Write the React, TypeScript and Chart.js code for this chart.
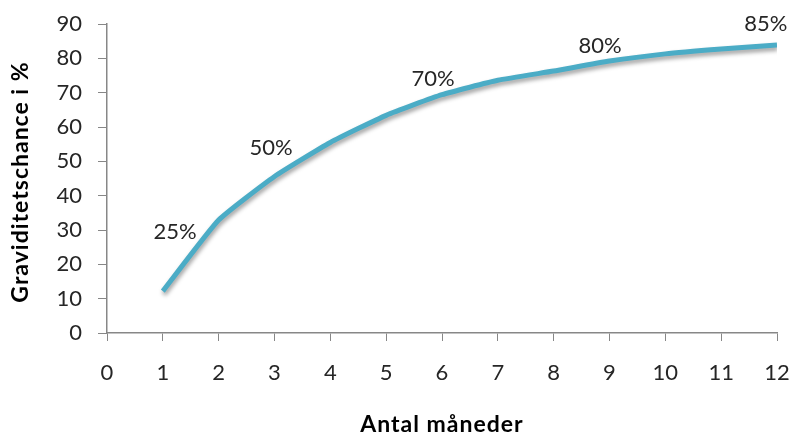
import React, { useEffect, useRef } from "react";
import { Chart, registerables } from "chart.js";

Chart.register(...registerables);

// Pregnancy chance (%) by number of months trying
const months = [1, 2, 3, 4, 5, 6, 7, 8, 9, 10, 11, 12];
const chance = [12.2, 32.9, 45.6, 55.5, 63.4, 69.4, 73.6, 76.3, 79.2, 81.3, 82.7, 83.9];

// Annotation texts placed in data coordinates (month, percent)
const noteTexts = ["25%", "50%", "70%", "80%", "85%"];
const noteMonths = [1.22, 2.94, 5.84, 8.83, 11.8];
const noteValues = [29.4, 53.9, 74.0, 83.6, 90.0];

const xTitle = "Antal måneder";
const yTitle = "Graviditetschance i %";

const FONT = "Lato, 'Open Sans', sans-serif";
const LINE_COLOR = "#4BACC6";
const AXIS_COLOR = "#878787";
const TEXT_COLOR = "#262626";

const lineShadow = {
  id: "lineShadow",
  beforeDatasetDraw(chart: any) {
    const ctx = chart.ctx;
    ctx.save();
    ctx.shadowColor = "rgba(0,0,0,0.38)";
    ctx.shadowBlur = 4;
    ctx.shadowOffsetX = 1;
    ctx.shadowOffsetY = 3;
  },
  afterDatasetDraw(chart: any) {
    chart.ctx.restore();
  },
};

const notesAndTitles = {
  id: "notesAndTitles",
  afterDraw(chart: any) {
    const ctx = chart.ctx;
    const xs = chart.scales.x;
    const ys = chart.scales.y;
    const area = chart.chartArea;
    ctx.save();
    ctx.fillStyle = TEXT_COLOR;
    ctx.textAlign = "center";
    ctx.textBaseline = "middle";
    ctx.font = `22px ${FONT}`;
    noteTexts.forEach((t, i) => {
      ctx.fillText(t, xs.getPixelForValue(noteMonths[i]), ys.getPixelForValue(noteValues[i]));
    });
    ctx.fillStyle = "#000";
    ctx.font = `bold 23px ${FONT}`;
    (ctx as any).letterSpacing = "1px";
    ctx.fillText(xTitle, (area.left + area.right) / 2, 425);
    ctx.translate(21, 182);
    ctx.rotate(-Math.PI / 2);
    ctx.fillText(yTitle, 0, 0);
    ctx.restore();
  },
};

export default function App() {
  const ref = useRef<HTMLCanvasElement | null>(null);

  useEffect(() => {
    if (!ref.current) return;
    const chart = new Chart(ref.current, {
      type: "line",
      data: {
        datasets: [
          {
            data: months.map((m, i) => ({ x: m, y: chance[i] })),
            borderColor: LINE_COLOR,
            borderWidth: 5,
            pointRadius: 0,
            tension: 0.15,
            fill: false,
          },
        ],
      },
      options: {
        animation: false,
        responsive: false,
        events: [],
        layout: { padding: { top: 24, right: 16, left: 0, bottom: 0 } },
        plugins: { legend: { display: false }, tooltip: { enabled: false } },
        scales: {
          x: {
            type: "linear",
            min: 0,
            max: 12,
            afterFit(s: any) {
              s.height = 103;
              s.paddingLeft = 0;
              s.paddingRight = 0;
            },
            ticks: {
              stepSize: 1,
              color: TEXT_COLOR,
              font: { family: FONT, size: 22 },
              padding: 19,
              maxRotation: 0,
            },
            grid: {
              drawOnChartArea: false,
              drawTicks: true,
              tickLength: 8,
              color: AXIS_COLOR,
            },
            border: { display: true, color: AXIS_COLOR, width: 1.5 },
          },
          y: {
            min: 0,
            max: 90,
            afterFit(s: any) {
              s.width = 107;
              s.paddingTop = 0;
              s.paddingBottom = 0;
            },
            ticks: {
              stepSize: 10,
              color: TEXT_COLOR,
              font: { family: FONT, size: 22 },
              padding: 16,
            },
            grid: {
              drawOnChartArea: false,
              drawTicks: true,
              tickLength: 9,
              color: AXIS_COLOR,
            },
            border: { display: true, color: AXIS_COLOR, width: 1.5 },
          },
        },
      },
      plugins: [lineShadow, notesAndTitles],
    });
    return () => chart.destroy();
  }, []);

  return (
    <div style={{ position: "fixed", left: 0, top: 0, width: 793, height: 436, background: "#fff" }}>
      <canvas ref={ref} width={793} height={436} style={{ display: "block" }} />
    </div>
  );
}
